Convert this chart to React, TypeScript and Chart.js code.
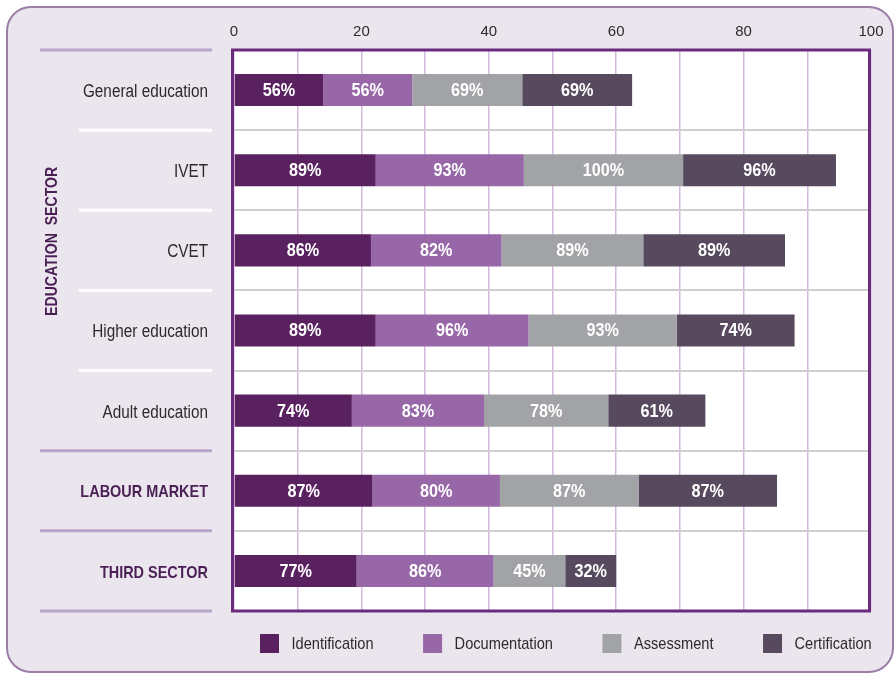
import React, { useEffect, useRef } from "react";
import { Chart, registerables } from "chart.js";

Chart.register(...registerables);

const categories = [
  "General education",
  "IVET",
  "CVET",
  "Higher education",
  "Adult education",
  "LABOUR MARKET",
  "THIRD SECTOR",
];
const headingCategories = ["LABOUR MARKET", "THIRD SECTOR"];
const identification = [56, 89, 86, 89, 74, 87, 77];
const documentation = [56, 93, 82, 96, 83, 80, 86];
const assessment = [69, 100, 89, 93, 78, 87, 45];
const certification = [69, 96, 89, 74, 61, 87, 32];
const seriesNames = ["Identification", "Documentation", "Assessment", "Certification"];
const seriesColors = ["#5a2160", "#9767a8", "#a2a3a6", "#574a5f"];
const groupLabel = "EDUCATION  SECTOR";
const groupSize = 5;
const xMin = 0;
const xMax = 100;
const xStep = 10;
const xLabelStep = 20;

const FONT = '"Liberation Sans", Arial, sans-serif';
const seriesValues = [identification, documentation, assessment, certification];

function narrowText(ctx: any, text: string, x: number, y: number, sx: number, align: string) {
  ctx.save();
  ctx.translate(x, y);
  ctx.scale(sx, 1);
  ctx.textAlign = align;
  ctx.fillText(text, 0, 0);
  ctx.restore();
}

const decor = {
  id: "decor",
  beforeDraw(chart: any) {
    const { ctx, chartArea: ca } = chart;
    ctx.save();
    ctx.fillStyle = "#ffffff";
    ctx.fillRect(0, 0, chart.width, chart.height);
    ctx.beginPath();
    ctx.roundRect(7, 7, 886, 665, 24);
    ctx.fillStyle = "#ebe6ee";
    ctx.fill();
    ctx.lineWidth = 2;
    ctx.strokeStyle = "#9b7ea8";
    ctx.stroke();
    ctx.fillStyle = "#ffffff";
    ctx.fillRect(ca.left, ca.top, ca.right - ca.left, ca.bottom - ca.top);
    ctx.restore();
  },
  afterDatasetsDraw(chart: any) {
    const { ctx } = chart;
    ctx.save();
    ctx.font = `bold 18px ${FONT}`;
    ctx.fillStyle = "#ffffff";
    ctx.textBaseline = "middle";
    chart.data.datasets.forEach((ds: any, di: number) => {
      const meta = chart.getDatasetMeta(di);
      meta.data.forEach((el: any, i: number) => {
        const { x, y, base } = el.getProps(["x", "y", "base"], true);
        narrowText(ctx, `${ds.pct[i]}%`, (x + base) / 2, y + 1, 0.9, "center");
      });
    });
    ctx.restore();
  },
  afterDraw(chart: any) {
    const { ctx, chartArea: ca } = chart;
    const ys = chart.scales.y;
    const n = categories.length;
    ctx.save();
    // separators in the label column
    for (let i = 0; i <= n; i++) {
      let y;
      if (i === 0) y = ca.top;
      else if (i === n) y = ca.bottom;
      else y = (ys.getPixelForValue(i - 1) + ys.getPixelForValue(i)) / 2;
      const lav = i === 0 || i >= groupSize;
      ctx.beginPath();
      ctx.lineWidth = 3;
      ctx.strokeStyle = lav ? "#b9a5c8" : "#ffffff";
      ctx.moveTo(lav ? 40 : 79, y);
      ctx.lineTo(212, y);
      ctx.stroke();
    }
    // category labels
    ctx.textBaseline = "middle";
    categories.forEach((c, i) => {
      const heading = headingCategories.includes(c);
      ctx.font = heading ? `bold 17px ${FONT}` : `18px ${FONT}`;
      ctx.fillStyle = heading ? "#4a1f55" : "#2b2b2b";
      narrowText(ctx, c, 208, ys.getPixelForValue(i) + 2, 0.85, "right");
    });
    // group label
    const gTop = ca.top;
    const gBot = (ys.getPixelForValue(groupSize - 1) + ys.getPixelForValue(groupSize)) / 2;
    ctx.save();
    ctx.translate(52, (gTop + gBot) / 2 - 9);
    ctx.rotate(-Math.PI / 2);
    ctx.font = `bold 17px ${FONT}`;
    ctx.fillStyle = "#4a1f55";
    narrowText(ctx, groupLabel, 0, 0, 0.83, "center");
    ctx.restore();
    // plot border
    ctx.lineWidth = 3;
    ctx.strokeStyle = "#6a2a7e";
    ctx.strokeRect(ca.left - 1.5, ca.top, ca.right - ca.left, ca.bottom - ca.top);
    // legend
    let lx = 260;
    const ly = 643.5;
    const sx = 0.86;
    ctx.font = `17px ${FONT}`;
    chart.data.datasets.forEach((ds: any) => {
      ctx.fillStyle = ds.backgroundColor;
      ctx.fillRect(lx, ly - 9.5, 19, 19);
      ctx.fillStyle = "#2b2b2b";
      narrowText(ctx, ds.label, lx + 31.5, ly + 1, sx, "left");
      lx += 31.5 + ctx.measureText(ds.label).width * sx + 49.5;
    });
    ctx.restore();
  },
};

export default function App() {
  const ref = useRef<HTMLCanvasElement>(null);
  useEffect(() => {
    if (!ref.current) return;
    const chart = new Chart(ref.current, {
      type: "bar",
      data: {
        labels: categories,
        datasets: seriesNames.map((name, k) => ({
          label: name,
          data: seriesValues[k].map((v) => v / seriesNames.length),
          pct: seriesValues[k],
          backgroundColor: seriesColors[k],
          borderWidth: 0,
          barPercentage: 0.4,
          categoryPercentage: 1,
        })) as any,
      },
      options: {
        indexAxis: "y",
        responsive: false,
        animation: false,
        layout: { padding: { left: 234, right: 23, bottom: 62, top: 0 } },
        plugins: { legend: { display: false }, tooltip: { enabled: false } },
        scales: {
          x: {
            stacked: true,
            position: "top",
            min: xMin,
            max: xMax,
            afterFit: (s: any) => {
              s.height = 50;
            },
            ticks: {
              stepSize: xStep,
              padding: 9,
              color: "#2b2b2b",
              font: { family: FONT, size: 15 },
              callback: (v: any) => (v % xLabelStep === 0 ? String(v) : ""),
              maxRotation: 0,
              autoSkip: false,
            },
            grid: { color: "#d4b8df", lineWidth: 1.5, drawTicks: false },
            border: { display: false },
          },
          y: {
            stacked: true,
            afterFit: (s: any) => {
              s.width = 0;
            },
            ticks: { display: false },
            grid: { color: "#cfcfcf", lineWidth: 2, drawTicks: false },
            border: { display: false },
          },
        },
      } as any,
      plugins: [decor],
    });
    return () => chart.destroy();
  }, []);
  return (
    <div style={{ position: "absolute", left: 0, top: 0, width: 894, height: 673 }}>
      <canvas ref={ref} width={894} height={673} />
    </div>
  );
}
